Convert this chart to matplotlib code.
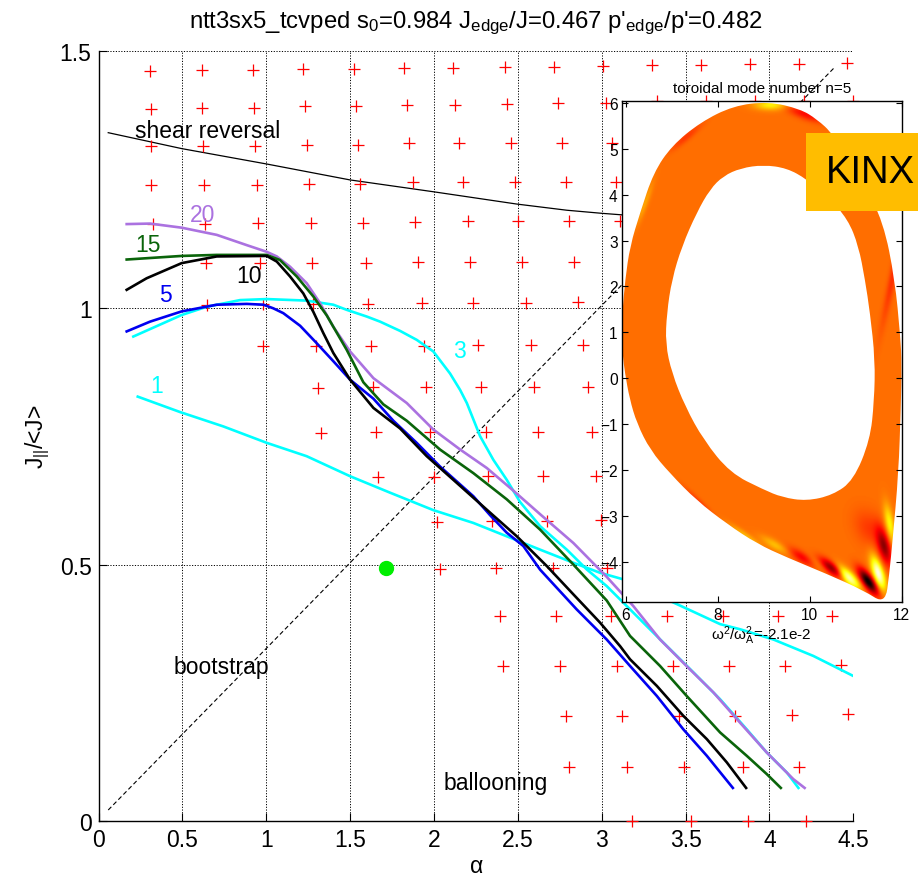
import numpy as np
import matplotlib
matplotlib.use('Agg')
import matplotlib.pyplot as plt
from matplotlib.path import Path

plt.rcParams['font.family'] = ['Liberation Sans', 'DejaVu Sans']
plt.rcParams['mathtext.default'] = 'regular'

# --- unstable points from the stability scan (red crosses), row by row ---
unstable_rows = [
    ([0.307, 0.615, 0.923, 1.221, 1.525, 1.824, 2.116, 2.424, 2.718, 3.007, 3.302, 3.593, 3.885, 4.178, 4.461],
     [1.462, 1.463, 1.464, 1.465, 1.465, 1.467, 1.467, 1.468, 1.468, 1.470, 1.472, 1.472, 1.474, 1.475, 1.476]),
    ([0.313, 0.615, 0.927, 1.231, 1.536, 1.838, 2.128, 2.438, 2.742, 3.024, 3.329, 3.621, 3.915, 4.207, 4.501],
     [1.388, 1.390, 1.390, 1.392, 1.392, 1.395, 1.395, 1.396, 1.398, 1.398, 1.402, 1.402, 1.402, 1.402, 1.402]),
    ([0.313, 0.621, 0.933, 1.245, 1.549, 1.853, 2.150, 2.458, 2.762, 3.060],
     [1.315, 1.315, 1.315, 1.317, 1.317, 1.320, 1.320, 1.321, 1.321, 1.321]),
    ([0.313, 0.631, 0.943, 1.255, 1.559, 1.874, 2.175, 2.484, 2.786, 3.084],
     [1.240, 1.240, 1.240, 1.242, 1.242, 1.244, 1.245, 1.245, 1.245, 1.245]),
    ([0.323, 0.635, 0.949, 1.267, 1.579, 1.887, 2.202, 2.503, 2.807, 3.110],
     [1.164, 1.164, 1.165, 1.165, 1.166, 1.167, 1.169, 1.169, 1.169, 1.169]),
    ([0.639, 0.963, 1.275, 1.593, 1.903, 2.215, 2.527, 2.837],
     [1.087, 1.087, 1.088, 1.088, 1.090, 1.090, 1.090, 1.090]),
    ([0.645, 0.979, 1.281, 1.609, 1.927, 2.235, 2.547, 2.857],
     [1.006, 1.007, 1.008, 1.008, 1.010, 1.010, 1.010, 1.012]),
    ([0.979, 1.295, 1.623, 1.941, 2.261, 2.577, 2.888],
     [0.925, 0.925, 0.926, 0.926, 0.927, 0.927, 0.928]),
    ([1.311, 1.635, 1.953, 2.279, 2.599, 2.917],
     [0.844, 0.845, 0.845, 0.846, 0.846, 0.846]),
    ([1.327, 1.653, 1.977, 2.309, 2.623, 2.941],
     [0.757, 0.758, 0.758, 0.759, 0.759, 0.759]),
    ([1.665, 2.000, 2.321, 2.652, 2.967],
     [0.671, 0.671, 0.672, 0.672, 0.672]),
    ([2.017, 2.345, 2.673, 2.996],
     [0.583, 0.584, 0.585, 0.586]),
    ([2.036, 2.370, 2.708, 3.030],
     [0.492, 0.493, 0.493, 0.494]),
    ([2.394, 2.726, 3.056, 3.392, 3.726, 4.050, 4.376],
     [0.399, 0.399, 0.400, 0.400, 0.400, 0.400, 0.400]),
    ([2.414, 2.752, 3.094, 3.428, 3.762, 4.094, 4.426],
     [0.302, 0.302, 0.303, 0.303, 0.303, 0.303, 0.304]),
    ([2.786, 3.123, 3.461, 3.796, 4.137, 4.471],
     [0.205, 0.205, 0.206, 0.206, 0.207, 0.208]),
    ([2.807, 3.150, 3.493, 3.841, 4.177],
     [0.105, 0.105, 0.106, 0.106, 0.106]),
    ([3.183, 3.533, 3.875, 4.219],
     [0.001, 0.001, 0.001, 0.001]),
]

# --- stability boundaries for toroidal mode numbers n ---
n20_x = [0.168, 0.307, 0.496, 0.705, 0.884, 1.003, 1.063, 1.142, 1.241, 1.321, 1.400, 1.500, 1.639, 1.838,
         1.996, 2.156, 2.315, 2.473, 2.633, 2.831, 3.030, 3.189, 3.348, 3.507, 3.666, 3.825, 3.984, 4.143, 4.210]
n20_y = [1.163, 1.164, 1.156, 1.142, 1.122, 1.109, 1.100, 1.080, 1.048, 1.009, 0.963, 0.915, 0.863, 0.8145,
         0.763, 0.724, 0.688, 0.644, 0.598, 0.542, 0.476, 0.419, 0.354, 0.302, 0.251, 0.192, 0.134, 0.082, 0.065]

n15_x = [0.168, 0.496, 0.705, 1.003, 1.082, 1.182, 1.281, 1.361, 1.480, 1.579, 1.698, 1.838, 2.036, 2.235,
         2.434, 2.633, 2.831, 3.030, 3.169, 3.348, 3.507, 3.706, 3.865, 3.984, 4.068]
n15_y = [1.094, 1.101, 1.103, 1.103, 1.093, 1.061, 1.022, 0.985, 0.918, 0.855, 0.812, 0.780, 0.724, 0.678,
         0.627, 0.568, 0.500, 0.430, 0.361, 0.3025, 0.244, 0.173, 0.1275, 0.092, 0.065]

n10_x = [0.168, 0.287, 0.496, 0.705, 1.003, 1.063, 1.142, 1.221, 1.281, 1.340, 1.400, 1.500, 1.639, 1.798,
         1.957, 2.136, 2.335, 2.494, 2.673, 2.831, 2.990, 3.110, 3.169, 3.329, 3.487, 3.627, 3.746, 3.861]
n10_y = [1.035, 1.0575, 1.087, 1.100, 1.101, 1.090, 1.061, 1.028, 0.992, 0.951, 0.912, 0.860, 0.805, 0.765,
         0.711, 0.659, 0.601, 0.555, 0.497, 0.442, 0.387, 0.341, 0.3155, 0.2636, 0.2053, 0.160, 0.1147, 0.065]

n5_x = [0.168, 0.307, 0.496, 0.705, 0.884, 0.983, 1.042, 1.102, 1.202, 1.301, 1.400, 1.500, 1.639, 1.758,
        1.897, 2.036, 2.235, 2.335, 2.434, 2.533, 2.633, 2.850, 3.030, 3.169, 3.329, 3.487, 3.627, 3.782]
n5_y = [0.954, 0.973, 0.993, 1.006, 1.0076, 1.006, 0.999, 0.9895, 0.965, 0.931, 0.896, 0.860, 0.823, 0.780,
        0.737, 0.691, 0.633, 0.596, 0.562, 0.536, 0.490, 0.413, 0.354, 0.3025, 0.244, 0.179, 0.1275, 0.065]

n3_x = [0.2075, 0.496, 0.645, 0.844, 1.003, 1.241, 1.400, 1.480, 1.599, 1.679, 1.798, 1.897, 1.996, 2.096,
        2.156, 2.196, 2.275, 2.354, 2.434, 2.513, 2.633, 2.792, 2.911, 3.030, 3.150, 3.269, 3.428, 3.547,
        3.706, 3.865, 3.984, 4.104, 4.173]
n3_y = [0.944, 0.986, 1.002, 1.015, 1.017, 1.014, 1.006, 0.996, 0.983, 0.973, 0.955, 0.9376, 0.915, 0.872,
        0.840, 0.8145, 0.750, 0.704, 0.665, 0.622, 0.5747, 0.529, 0.4905, 0.458, 0.419, 0.380, 0.3285, 0.290,
        0.2377, 0.179, 0.134, 0.095, 0.065]

n1_x = [0.234, 0.486, 0.744, 1.003, 1.241, 1.500, 1.738, 1.996, 2.235, 2.434, 2.633, 2.831, 2.990, 3.120,
        3.468, 3.706, 3.825, 4.024, 4.262, 4.500]
n1_y = [0.827, 0.797, 0.769, 0.737, 0.711, 0.672, 0.640, 0.606, 0.581, 0.555, 0.529, 0.5035, 0.484, 0.472,
        0.420, 0.384, 0.374, 0.354, 0.322, 0.283]

shear_x = [0.058, 0.496, 1.003, 1.500, 1.996, 2.494, 2.792, 3.000, 3.120, 4.500]
shear_y = [1.341, 1.310, 1.280, 1.249, 1.226, 1.202, 1.190, 1.184, 1.181, 1.150]

boot_x = [0.058, 4.382]
boot_y = [0.022, 1.466]

op_alpha, op_j = 1.712, 0.494  # operating point

# --- mode structure inset: plasma edge ring (R, Z) ---
outer_R = [9.10, 8.34, 7.62, 7.00, 6.60, 6.31, 6.09, 5.985, 5.92, 5.91, 5.93, 5.98, 6.08, 6.24, 6.53, 6.96,
           7.54, 8.20, 8.85, 9.50, 10.37, 11.17, 11.64, 11.73, 11.80, 11.93, 11.98, 12.00, 11.97, 11.85,
           11.60, 11.15, 10.51, 10.15, 9.79]
outer_Z = [6.03, 5.94, 5.58, 5.07, 4.48, 3.61, 2.88, 2.15, 1.40, 1.00, 0.50, 0.11, -0.45, -0.99, -1.57, -2.08,
           -2.67, -3.18, -3.61, -3.91, -4.27, -4.63, -4.93, -4.27, -3.54, -2.08, -0.62, 0.30, 0.90, 2.15,
           3.40, 4.30, 5.32, 5.65, 5.87]
inner_R = [8.99, 8.50, 8.12, 7.83, 7.54, 7.22, 7.00, 6.89, 6.86, 7.00, 7.29, 7.69, 8.27, 8.99, 9.40, 9.93,
           10.50, 10.95, 11.31, 11.40, 11.42, 11.31, 11.20, 11.06, 10.83, 10.40, 9.93, 9.50]
inner_Z = [4.65, 4.58, 4.41, 4.12, 3.61, 2.88, 2.15, 1.42, 0.75, 0.11, -0.62, -1.35, -2.07, -2.43, -2.60, -2.68,
           -2.55, -2.23, -1.35, -0.50, 0.40, 1.42, 2.15, 2.88, 3.46, 3.95, 4.34, 4.58]

# eigenfunction features: R, Z, amplitude, angle (deg), length, width
mode_R = [10.48, 10.84, 11.27, 11.49, 11.62, 11.74, 9.85, 9.25, 10.15, 11.30, 9.15, 9.90, 7.30, 6.40, 7.60, 8.60, 11.85]
mode_Z = [-4.16, -4.36, -4.45, -4.27, -3.69, -3.20, -3.93, -3.66, -4.05, -3.30, 5.95, 5.75, 5.25, 3.80, -2.75, -3.45, 2.40]
mode_amp = [-0.35, 0.42, -0.55, 0.45, -0.32, 0.22, -0.18, 0.12, 0.10, -0.08, 0.20, -0.15, -0.08, 0.08, -0.08, 0.10, -0.10]
mode_ang = [-37, -45, -55, -72, -75, -80, -30, -30, -35, -60, 0, -20, 40, 70, -45, -35, 78]
mode_len = [0.22, 0.22, 0.22, 0.25, 0.28, 0.30, 0.25, 0.25, 0.20, 0.30, 0.25, 0.30, 0.30, 0.35, 0.35, 0.30, 0.90]
mode_wid = [0.08, 0.08, 0.08, 0.08, 0.09, 0.07, 0.08, 0.07, 0.07, 0.20, 0.08, 0.08, 0.06, 0.05, 0.05, 0.05, 0.06]


def smooth_loop(pts):
    # closed outline through quadratic Bezier segments, control points at the given vertices
    pts = np.asarray(pts)
    mids = 0.5 * (pts + np.roll(pts, -1, axis=0))
    verts = [mids[-1]]
    codes = [Path.MOVETO]
    for p, m in zip(pts, mids):
        verts += [p, m]
        codes += [Path.CURVE3, Path.CURVE3]
    verts.append(mids[-1])
    codes.append(Path.CLOSEPOLY)
    return Path(verts, codes)


fs = 16.5
fig = plt.figure(figsize=(9.18, 8.79), dpi=100)
ax = fig.add_axes([0.1073, 0.0645, 0.8222, 0.8763])

ax.grid(True, color='black', linestyle=(0, (1.2, 1.6)), linewidth=0.7)
ax.set_axisbelow(True)

for xs, ys in unstable_rows:
    ax.plot(xs, ys, '+', color='red', ms=9, mew=0.9, clip_on=False, zorder=3)

ax.plot(shear_x, shear_y, color='black', lw=0.9, zorder=2)
ax.plot(boot_x, boot_y, color='black', lw=0.8, ls=(0, (4, 2.5)), zorder=2)

purple = '#AB72E0'
green = '#0A640A'
cyan = '#00FFFF'
ax.plot(n1_x, n1_y, color=cyan, lw=1.9, zorder=4)
ax.plot(n3_x, n3_y, color=cyan, lw=1.9, zorder=4)
ax.plot(n5_x, n5_y, color='#0000F0', lw=1.9, zorder=4)
ax.plot(n20_x, n20_y, color=purple, lw=1.9, zorder=4)
ax.plot(n15_x, n15_y, color=green, lw=1.9, zorder=4)
ax.plot(n10_x, n10_y, color='black', lw=1.9, zorder=4)

ax.plot(op_alpha, op_j, 'o', color='#00EE00', ms=10, zorder=5)

ax.text(0.546, 1.1695, '20', color=purple, fontsize=fs)
ax.text(0.218, 1.111, '15', color=green, fontsize=fs)
ax.text(0.820, 1.051, '10', color='black', fontsize=fs)
ax.text(0.3625, 1.014, '5', color='#0000F0', fontsize=fs)
ax.text(0.307, 0.836, '1', color=cyan, fontsize=fs)
ax.text(2.112, 0.905, '3', color=cyan, fontsize=fs)
ax.text(0.218, 1.332, 'shear reversal', fontsize=fs)
ax.text(0.446, 0.2897, 'bootstrap', fontsize=fs)
ax.text(2.056, 0.0628, 'ballooning', fontsize=fs)

ax.set_xlim(0, 4.5)
ax.set_ylim(0, 1.5)
ax.set_xticks(np.arange(0, 4.51, 0.5))
ax.set_xticklabels(['0', '0.5', '1', '1.5', '2', '2.5', '3', '3.5', '4', '4.5'])
ax.set_yticks([0, 0.5, 1, 1.5])
ax.set_yticklabels(['0', '0.5', '1', '1.5'])
ax.tick_params(direction='in', length=6, width=0.8, labelsize=fs, pad=5)
for side in ['top', 'right']:
    ax.spines[side].set_visible(False)
for side in ['left', 'bottom']:
    ax.spines[side].set_linewidth(1.0)

ax.set_xlabel(r'$\alpha$', fontsize=fs)
ax.xaxis.set_label_coords(0.5, -0.043)
ax.set_ylabel(r'J$_{||}$/<J>', fontsize=fs)
ax.yaxis.set_label_coords(-0.062, 0.5)
ax.set_title(r"ntt3sx5_tcvped s$_0$=0.984 J$_{edge}$/J=0.467 p'$_{edge}$/p'=0.482",
             fontsize=17.2, pad=17.5)

# --- inset with the n=5 eigenfunction on the plasma cross-section ---
ax_in = fig.add_axes([0.6773, 0.3136, 0.3050, 0.5707])
RR, ZZ = np.meshgrid(np.linspace(5.85, 12.1, 420), np.linspace(-5.05, 6.15, 760))
field = np.full(RR.shape, 0.53)
for rc, zc, amp, ang, la, wa in zip(mode_R, mode_Z, mode_amp, mode_ang, mode_len, mode_wid):
    c, s = np.cos(np.radians(ang)), np.sin(np.radians(ang))
    u = (RR - rc) * c + (ZZ - zc) * s
    v = -(RR - rc) * s + (ZZ - zc) * c
    field += amp * np.exp(-0.5 * ((u / la) ** 2 + (v / wa) ** 2))
field = np.clip(field, 0, 1)

outer = np.column_stack([outer_R, outer_Z])
inner = np.column_stack([inner_R, inner_Z])[::-1]
ring = Path.make_compound_path(smooth_loop(outer), smooth_loop(inner))
im = ax_in.imshow(field, extent=[5.85, 12.1, -5.05, 6.15], origin='lower', cmap='hot',
                  vmin=0, vmax=1, interpolation='bilinear', aspect='auto')
im.set_clip_path(ring, transform=ax_in.transData)

ax_in.set_xlim(5.91, 12.0)
ax_in.set_ylim(-4.89, 6.05)
ax_in.set_xticks([6, 8, 10, 12])
ax_in.set_yticks(np.arange(-4, 7, 1))
ax_in.tick_params(direction='in', length=4, width=0.8, labelsize=11.2, pad=3,
                  top=True, right=True)
for sp in ax_in.spines.values():
    sp.set_linewidth(1.0)
ax_in.set_title('toroidal mode number n=5', fontsize=11, pad=6.5)
ax_in.set_xlabel(r'$\omega^2/\omega_A^2$=-2.1e-2', fontsize=11, labelpad=1)

# code label
fig.patches.append(plt.Rectangle((806 / 918, 1 - 212.3 / 879), 0.2, 78.3 / 879,
                                 transform=fig.transFigure, facecolor='#FFBD00',
                                 edgecolor='none', zorder=10))
fig.text(826 / 918, 1 - 173 / 879, 'KINX', fontsize=27.5, va='center', ha='left', zorder=11)

fig.savefig('out.png', dpi=100)
